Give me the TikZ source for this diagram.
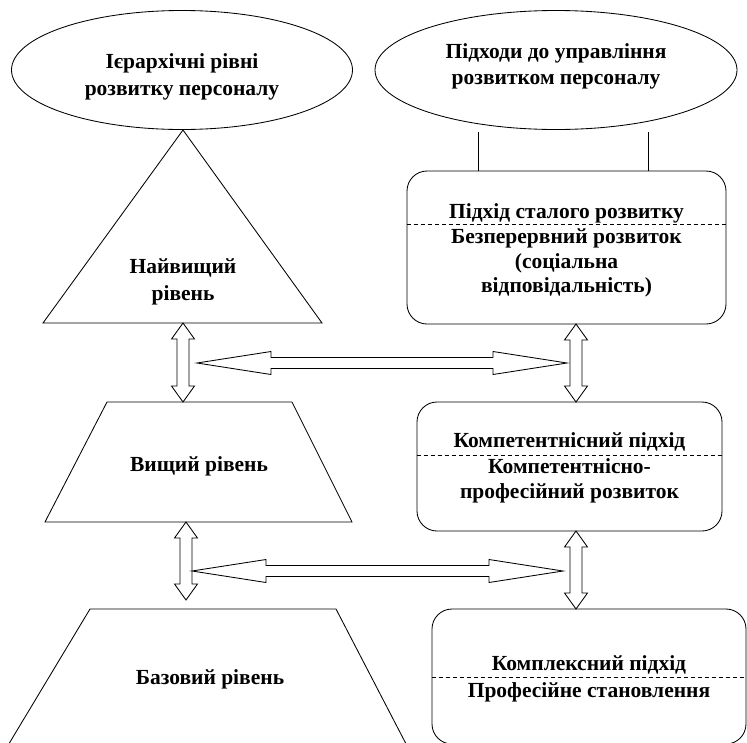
\documentclass[tikz,border=0pt]{standalone}
\usepackage{fontspec}
\setmainfont{Liberation Serif}
\usetikzlibrary{calc,shapes.geometric}
\def\ahl{16}\def\ahw{11.5}\def\asw{6}
\tikzset{
  lbl/.style={font=\fontsize{21.5}{27}\selectfont\bfseries, align=center, inner sep=0pt},
  rbox/.style={draw, rounded corners=20pt, inner sep=0pt},
  ell/.style={draw, ellipse, inner sep=0pt},
  sepline/.style={dash pattern=on 4pt off 3pt, line width=0.8pt},
  dblarr/.style={to path={
    let \p1=(\tikztostart), \p2=(\tikztotarget),
        \n1={atan2(\y2-\y1,\x2-\x1)},
        \n2={veclen(\x2-\x1,\y2-\y1)}
    in {[shift={(\p1)}, rotate=\n1]
      (0,0) -- (\ahl,\ahw) -- (\ahl,\asw) -- (\n2-\ahl,\asw) -- (\n2-\ahl,\ahw)
      -- (\n2,0) -- (\n2-\ahl,-\ahw) -- (\n2-\ahl,-\asw) -- (\ahl,-\asw)
      -- (\ahl,-\ahw) -- cycle}
  }},
  varr/.style={dblarr, /utils/exec={\def\ahl{16}\def\ahw{11.5}\def\asw{6}}},
  harr/.style={dblarr, /utils/exec={\def\ahl{74}\def\ahw{11.5}\def\asw{5.5}}},
}
\begin{document}
\begin{tikzpicture}[x=1pt, y=-1pt, line width=0.85pt, line join=miter]
\useasboundingbox (0,0) rectangle (747,742);
\clip (0,0) rectangle (747,742);

% ellipses
\node[ell, minimum width=341pt, minimum height=119pt] (ell1) at (182,70) {};
\node[lbl] (ell1t) at (182,77) {Ієрархічні рівні\\розвитку персоналу};
\node[ell, minimum width=362pt, minimum height=119pt] (ell2) at (556,70) {};
\node[lbl, font=\fontsize{21.5}{26}\selectfont\bfseries] (ell2t) at (556,66) {Підходи до управління\\розвитком персоналу};

% hierarchy shapes
\coordinate (triA) at (183,130);
\coordinate (triL) at (43,323);
\coordinate (triR) at (322,323);
\draw (triL) -- (triA) -- (triR) -- cycle;
\node[lbl] (tri) at (183,282) {Найвищий\\рівень};

\coordinate (tzA) at (107,402);
\coordinate (tzB) at (292,402);
\coordinate (tzC) at (352,522);
\coordinate (tzD) at (45,522);
\draw (tzA) -- (tzB) -- (tzC) -- (tzD) -- cycle;
\node[lbl, anchor=base] (tz) at (199,471) {Вищий рівень};

\coordinate (bzA) at (90,609);
\coordinate (bzB) at (336,609);
\coordinate (bzC) at (406.6,745);
\coordinate (bzD) at (8.2,745);
\draw (bzD) -- (bzA) -- (bzB) -- (bzC);
\node[lbl, anchor=base] (bz) at (210,684) {Базовий рівень};

% approach boxes
\node[rbox, minimum width=319pt, minimum height=153pt] (box1) at (566.5,247.5) {};
\draw[sepline] (box1.west |- 0,224) -- (box1.east |- 0,224);
\node[lbl, anchor=base] (box1a) at (566.5,218) {Підхід сталого розвитку};
\node[lbl, font=\fontsize{21.5}{24.5}\selectfont\bfseries] (box1b) at (566.5,263)
  {Безперервний розвиток\\(соціальна\\відповідальність)};

\node[rbox, minimum width=305pt, minimum height=129pt] (box2) at (569.5,466.5) {};
\draw[sepline] (box2.west |- 0,455) -- (box2.east |- 0,455);
\node[lbl, anchor=base] (box2a) at (569.5,447) {Компетентнісний підхід};
\node[lbl, font=\fontsize{21.5}{25}\selectfont\bfseries] (box2b) at (569.5,481)
  {Компетентнісно-\\професійний розвиток};

\node[rbox, minimum width=314pt, minimum height=135pt] (box3) at (589,676.5) {};
\draw[sepline] (box3.west |- 0,677) -- (box3.east |- 0,677);
\node[lbl, anchor=base] (box3a) at (589,670) {Комплексний підхід};
\node[lbl, anchor=base] (box3b) at (589,697) {Професійне становлення};

% lines from the approaches ellipse
\coordinate (c1) at (478,132);
\coordinate (c2) at (648,132);
\draw (c1) -- (c1 |- box1.north);
\draw (c2) -- (c2 |- box1.north);

% double arrows
\coordinate (a1s) at (183,323);
\coordinate (a1e) at (183,402);
\coordinate (h1s) at (197,363);
\coordinate (h1e) at (567,363);
\coordinate (v1s) at (576,324);
\coordinate (v1e) at (576,402);
\coordinate (a2s) at (186,522);
\coordinate (a2e) at (186,600);
\coordinate (h2s) at (192,571);
\coordinate (h2e) at (563,571);
\coordinate (v2s) at (576,531);
\coordinate (v2e) at (576,609);
\draw[varr] (a1s) to (a1e);
\draw[harr] (h1s) to (h1e);
\draw[varr] (v1s) to (v1e);
\draw[varr] (a2s) to (a2e);
\draw[harr] (h2s) to (h2e);
\draw[varr] (v2s) to (v2e);
\end{tikzpicture}
\end{document}
